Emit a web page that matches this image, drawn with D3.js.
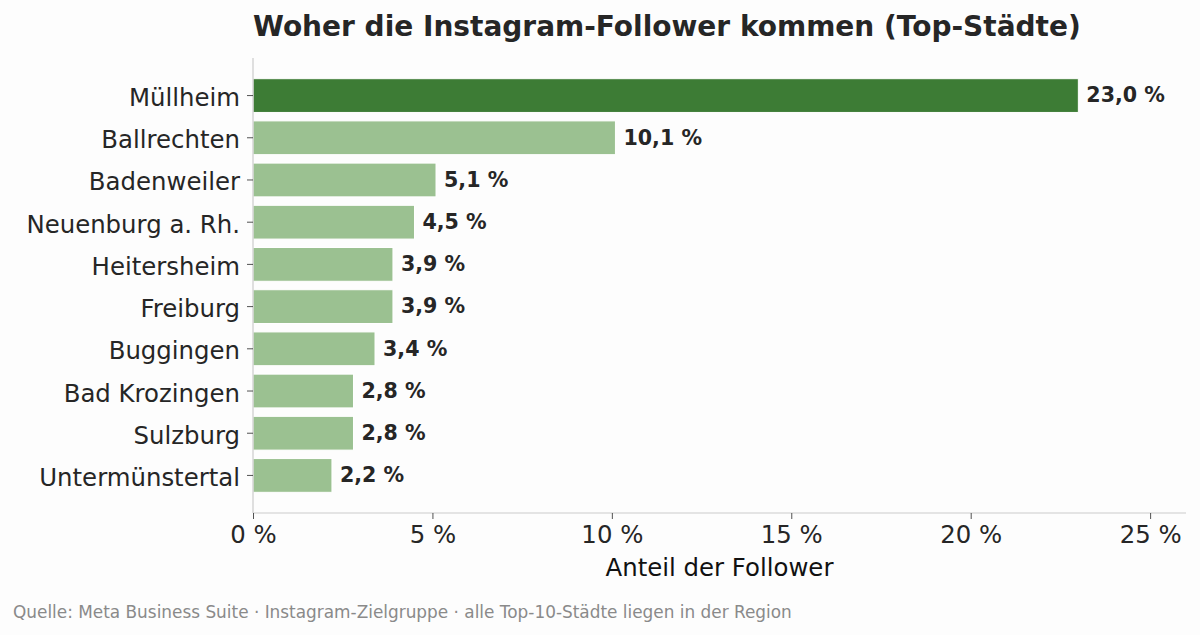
<!DOCTYPE html>
<html>
<head>
<meta charset="utf-8">
<script src="https://cdn.jsdelivr.net/npm/d3@7"></script>
<style>
  body { margin: 0; background: #fdfdfd; }
  svg { display: block; font-family: "DejaVu Sans", sans-serif; }
</style>
</head>
<body>
<div id="chart"></div>
<script>
const cities = ["Müllheim", "Ballrechten", "Badenweiler", "Neuenburg a. Rh.", "Heitersheim",
  "Freiburg", "Buggingen", "Bad Krozingen", "Sulzburg", "Untermünstertal"];
const shares = [23.0, 10.1, 5.1, 4.5, 3.9, 3.9, 3.4, 2.8, 2.8, 2.2];
const xTicks = [0, 5, 10, 15, 20, 25];

const title = "Woher die Instagram-Follower kommen (Top-Städte)";
const xLabel = "Anteil der Follower";
const source = "Quelle: Meta Business Suite · Instagram-Zielgruppe · alle Top-10-Städte liegen in der Region";

const width = 1200, height = 635;
const margin = {top: 58, right: 14, bottom: 122, left: 253};
const plotW = width - margin.left - margin.right;
const plotH = height - margin.top - margin.bottom;

const fmt = (v) => v.toFixed(1).replace(".", ",") + " %";

const svg = d3.select("#chart").append("svg")
  .attr("width", width).attr("height", height);

svg.append("rect").attr("width", width).attr("height", height).attr("fill", "#fdfdfd");

const g = svg.append("g").attr("transform", `translate(${margin.left},${margin.top})`);

const x = d3.scaleLinear().domain([0, 26]).range([0, plotW]);
const y = d3.scaleBand().domain(cities).range([0, plotH]).paddingInner(0.2).paddingOuter(0.49);

// bars
g.selectAll("rect.bar").data(cities).enter().append("rect")
  .attr("class", "bar")
  .attr("x", x(0))
  .attr("y", d => y(d))
  .attr("width", (d, i) => x(shares[i]) - x(0))
  .attr("height", y.bandwidth())
  .attr("fill", (d, i) => i === 0 ? "#3d7c35" : "#9bc191")
  .attr("stroke", "#ffffff")
  .attr("stroke-width", 1);

// value labels
g.selectAll("text.val").data(cities).enter().append("text")
  .attr("class", "val")
  .attr("x", (d, i) => x(shares[i]) + 8)
  .attr("y", d => y(d) + y.bandwidth() / 2)
  .attr("dy", "0.33em")
  .attr("font-size", 20.6)
  .attr("font-weight", "bold")
  .attr("fill", "#262626")
  .text((d, i) => fmt(shares[i]));

// axes
const xAxis = g.append("g")
  .attr("transform", `translate(0,${plotH})`)
  .call(d3.axisBottom(x).tickValues(xTicks).tickFormat(d => d + " %").tickSize(6).tickPadding(7));
const yAxis = g.append("g")
  .call(d3.axisLeft(y).tickSize(6).tickPadding(7));

[xAxis, yAxis].forEach(a => {
  a.select(".domain").attr("stroke", "#cccccc").attr("stroke-width", 1.2);
  a.selectAll(".tick line").attr("stroke", "#262626").attr("stroke-width", 0.8);
  a.selectAll(".tick text").attr("fill", "#262626").attr("font-size", 24.4)
    .attr("font-family", "DejaVu Sans, sans-serif");
});
yAxis.selectAll(".tick text").attr("dy", "0.43em");
xAxis.select(".domain").attr("d", `M0,0H${plotW}`);
yAxis.select(".domain").attr("d", `M0,0V${plotH}`);

// title, axis label, source
svg.append("text")
  .attr("x", margin.left).attr("y", 36)
  .attr("font-size", 28).attr("font-weight", "bold").attr("fill", "#262626")
  .text(title);

svg.append("text")
  .attr("x", margin.left + plotW / 2).attr("y", 576)
  .attr("text-anchor", "middle")
  .attr("font-size", 24.4).attr("fill", "#111111")
  .text(xLabel);

svg.append("text")
  .attr("x", 13).attr("y", 618)
  .attr("font-size", 16.9).attr("fill", "#8a8a8a")
  .text(source);
</script>
</body>
</html>
